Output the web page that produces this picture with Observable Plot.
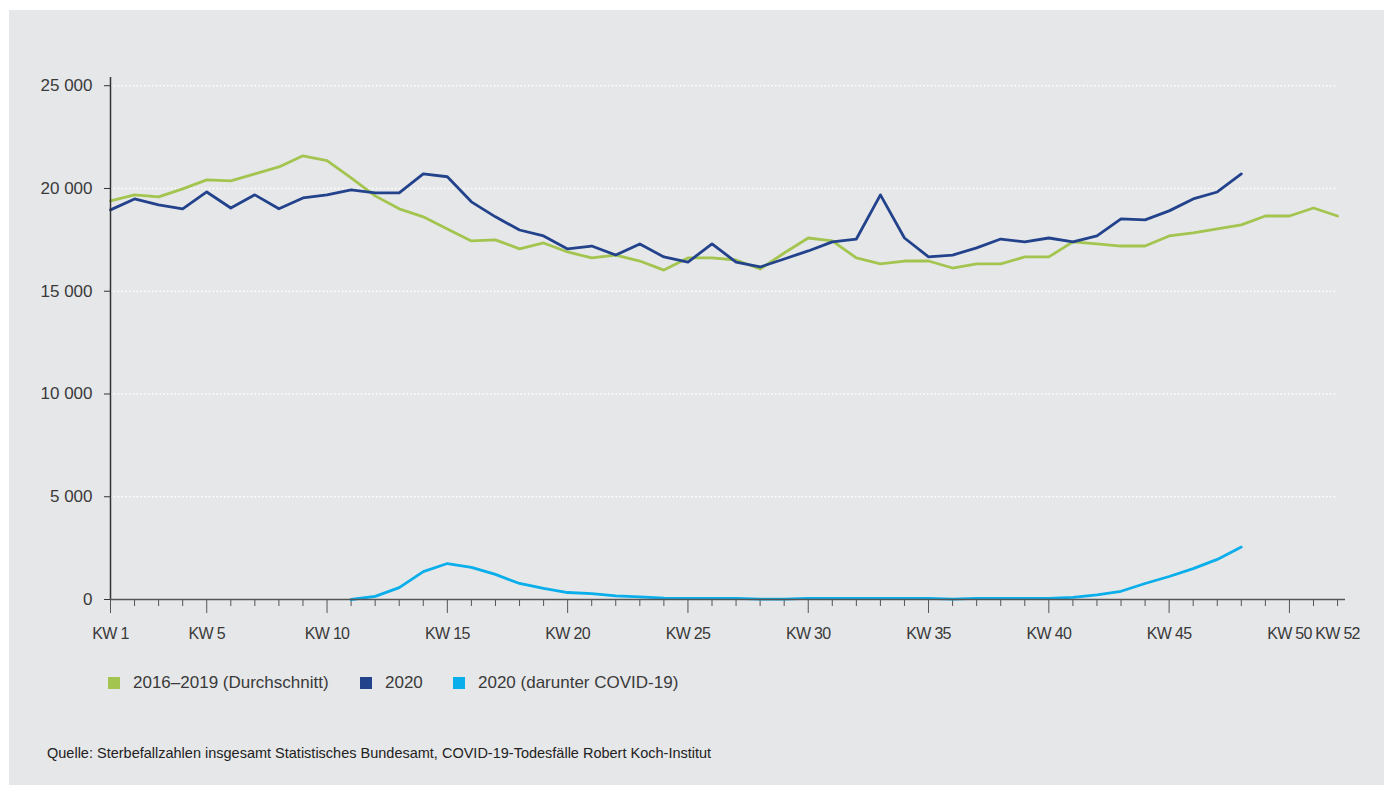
<!DOCTYPE html>
<html><head><meta charset="utf-8">
<script src="https://cdn.jsdelivr.net/npm/d3@7"></script>
<script src="https://cdn.jsdelivr.net/npm/@observablehq/plot@0.6"></script>
<style>
body{margin:0;background:#fff;font-family:"Liberation Sans",Arial,sans-serif;color:#3a3a3a;}
#panel{position:absolute;left:9px;top:10px;width:1375px;height:775px;background:#e6e7e9;}
#chart{position:absolute;left:0;top:0;}
#chart text.kw{letter-spacing:-0.7px;}
.lg{position:absolute;top:674px;height:18px;display:flex;align-items:center;font-size:17px;color:#3a3a3a;white-space:nowrap;}
.sw{width:12px;height:12px;margin-right:13px;}
#cap{position:absolute;left:47px;top:745px;font-size:14.5px;color:#222;white-space:nowrap;}
</style></head>
<body>
<div id="panel"></div>
<div id="chart"></div>
<div id="legend"></div>
<div id="cap"></div>
<script>
const weeks = [1,2,3,4,5,6,7,8,9,10,11,12,13,14,15,16,17,18,19,20,21,22,23,24,25,26,27,28,29,30,31,32,33,34,35,36,37,38,39,40,41,42,43,44,45,46,47,48,49,50,51,52];
const avg2016to2019 = [19400,19690,19590,19980,20420,20370,20710,21050,21590,21350,
  20520,19640,19010,18620,18030,17450,17500,17060,17350,16910,
  16620,16760,16470,16030,16620,16620,16520,16080,16860,17590,
  17450,16620,16330,16470,16470,16130,16330,16330,16670,16670,
  17400,17300,17200,17200,17690,17840,18030,18230,18660,18660,
  19050,18660];
const deaths2020 = [18960,19490,19200,19010,19830,19050,19690,19010,19540,19690,
  19930,19790,19790,20710,20570,19350,18620,17980,17690,17060,
  17200,16760,17300,16670,16420,17300,16420,16180,16570,16960,
  17400,17540,19690,17590,16670,16760,17110,17540,17400,17590,
  17400,17690,18520,18470,18910,19490,19830,20710];
const covidWeeks = [11,12,13,14,15,16,17,18,19,20,21,22,23,24,25,26,27,28,29,30,31,32,33,34,35,36,37,38,39,40,41,42,43,44,45,46,47,48];
const covid2020 = [0,150,580,1360,1750,1560,1220,780,540,340,
  290,180,130,70,50,50,50,20,20,50,
  50,50,50,50,50,20,50,50,50,50,
  100,230,400,780,1120,1500,1950,2550];
const yTicks = [0,5000,10000,15000,20000,25000];
const gridTicks = [5000,10000,15000,20000,25000];
const majorWeeks = [1,5,10,15,20,25,30,35,40,45,50];
const labelWeeks = [1,5,10,15,20,25,30,35,40,45,50,52];
const seriesNames = ["2016\u20132019 (Durchschnitt)","2020","2020 (darunter COVID-19)"];
const seriesColors = ["#a3c54f","#23428c","#0aaeea"];

const rows = [];
weeks.forEach((w,i)=>rows.push({week:w,value:avg2016to2019[i],series:seriesNames[0]}));
deaths2020.forEach((v,i)=>rows.push({week:weeks[i],value:v,series:seriesNames[1]}));
covid2020.forEach((v,i)=>rows.push({week:covidWeeks[i],value:v,series:seriesNames[2]}));

const minorWeeks = weeks.filter(w=>!majorWeeks.includes(w));
const fmt = d => d === 0 ? "0" : d3.format(",")(d).replace(/,/g," ");

const chart = Plot.plot({
  width:1384, height:660,
  marginLeft:110, marginRight:39, marginTop:77, marginBottom:61,
  style:{background:"transparent", fontFamily:"Liberation Sans, Arial, sans-serif", fontSize:"17px", color:"#3a3a3a"},
  x:{type:"linear", domain:[1,52.33], axis:null},
  y:{domain:[0,25400], axis:null},
  color:{domain:seriesNames, range:seriesColors},
  marks:[
    Plot.ruleY(gridTicks,{x1:1,x2:52,stroke:"#fff",strokeWidth:1.6,strokeDasharray:"1.6,2.2"}),
    Plot.axisY({ticks:yTicks, tickSize:6, tickPadding:12, tickFormat:fmt, label:null, fontSize:17, stroke:"#333"}),
    Plot.axisX(minorWeeks,{tickSize:7, tickFormat:()=>"", label:null, stroke:"#555"}),
    Plot.axisX(majorWeeks,{tickSize:14, tickFormat:()=>"", label:null, stroke:"#555"}),
    Plot.text(labelWeeks,{x:d=>d, y:0, text:d=>"KW "+d, dy:34, fontSize:16, fill:"#3a3a3a", className:"kw"}),
    Plot.line(rows,{x:"week", y:"value", z:"series", stroke:"series", strokeWidth:2.8, strokeLinejoin:"round"}),
    Plot.ruleX([1],{y1:0,y2:25400,stroke:"#333",strokeWidth:1.5}),
    Plot.ruleY([0],{x1:1,x2:52.33,stroke:"#555",strokeWidth:1.5})
  ]
});
chart.querySelectorAll("g.kw text, text.kw").forEach(t=>t.classList.add("kw"));
document.getElementById("chart").appendChild(chart);

const legendPos = [108,360,453];
const lg = document.getElementById("legend");
seriesNames.forEach((n,i)=>{
  const d = document.createElement("div");
  d.className="lg"; d.style.left = legendPos[i]+"px";
  d.innerHTML = `<span class="sw" style="background:${seriesColors[i]}"></span><span>${n}</span>`;
  lg.appendChild(d);
});
document.getElementById("cap").textContent = "Quelle: Sterbefallzahlen insgesamt Statistisches Bundesamt, COVID-19-Todesfälle Robert Koch-Institut";
</script>
</body></html>
